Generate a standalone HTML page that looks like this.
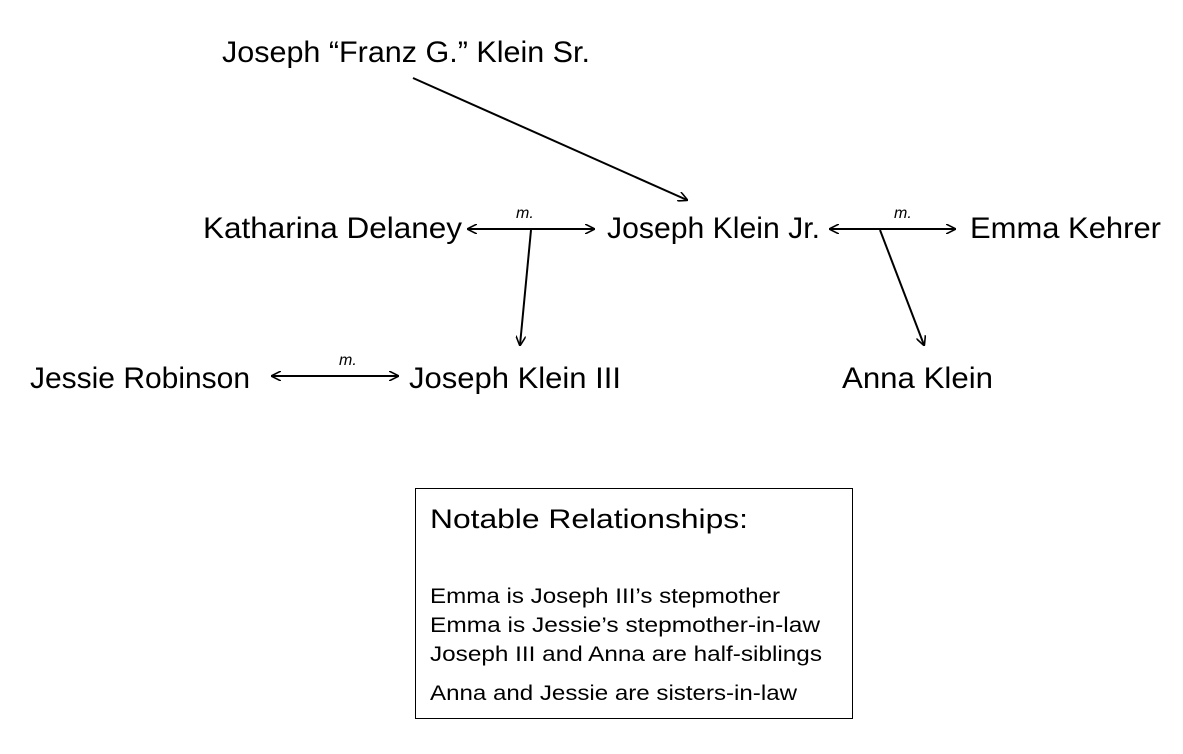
<!DOCTYPE html>
<html><head><meta charset="utf-8"><style>html,body{margin:0;padding:0;background:#fff}svg{display:block}</style></head>
<body>
<svg width="1183" height="754" viewBox="0 0 1183 754" xmlns="http://www.w3.org/2000/svg" font-family="Liberation Sans, sans-serif">
<defs>
<marker id="a" viewBox="0 0 10 10" refX="9" refY="5" markerWidth="10" markerHeight="10" orient="auto-start-reverse" markerUnits="userSpaceOnUse">
<path d="M0,0 L10,5 L0,10" fill="none" stroke="#000" stroke-width="1.6"/>
</marker>
</defs>
<g font-size="30" fill="#000">
<text x="222" y="62" textLength="368" lengthAdjust="spacingAndGlyphs">Joseph “Franz G.” Klein Sr.</text>
<text x="203" y="238" textLength="259" lengthAdjust="spacingAndGlyphs">Katharina Delaney</text>
<text x="607" y="238" textLength="213" lengthAdjust="spacingAndGlyphs">Joseph Klein Jr.</text>
<text x="970" y="238" textLength="191" lengthAdjust="spacingAndGlyphs">Emma Kehrer</text>
<text x="30" y="388" textLength="220" lengthAdjust="spacingAndGlyphs">Jessie Robinson</text>
<text x="409" y="388" textLength="212" lengthAdjust="spacingAndGlyphs">Joseph Klein III</text>
<text x="842" y="388" textLength="151" lengthAdjust="spacingAndGlyphs">Anna Klein</text>
</g>
<g font-size="16" font-style="italic">
<text x="516" y="218">m.</text>
<text x="894" y="218">m.</text>
<text x="339" y="365">m.</text>
</g>
<g stroke="#000" stroke-width="2" fill="none">
<line x1="413" y1="78" x2="687" y2="200" marker-end="url(#a)"/>
<line x1="468" y1="229" x2="594" y2="229" marker-start="url(#a)" marker-end="url(#a)"/>
<line x1="531" y1="230" x2="520" y2="345" marker-end="url(#a)"/>
<line x1="830" y1="229" x2="955" y2="229" marker-start="url(#a)" marker-end="url(#a)"/>
<line x1="880" y1="230" x2="924" y2="345" marker-end="url(#a)"/>
<line x1="272" y1="376" x2="398" y2="376" marker-start="url(#a)" marker-end="url(#a)"/>
</g>
<rect x="415.5" y="488.5" width="437" height="230" fill="none" stroke="#000" stroke-width="1"/>
<text x="430" y="528" font-size="27" textLength="318" lengthAdjust="spacingAndGlyphs">Notable Relationships:</text>
<g font-size="21">
<text x="430" y="603" textLength="350" lengthAdjust="spacingAndGlyphs">Emma is Joseph III’s stepmother</text>
<text x="430" y="632" textLength="390" lengthAdjust="spacingAndGlyphs">Emma is Jessie’s stepmother-in-law</text>
<text x="430" y="661" textLength="392" lengthAdjust="spacingAndGlyphs">Joseph III and Anna are half-siblings</text>
<text x="430" y="700" textLength="367" lengthAdjust="spacingAndGlyphs">Anna and Jessie are sisters-in-law</text>
</g>
</svg>
</body></html>
